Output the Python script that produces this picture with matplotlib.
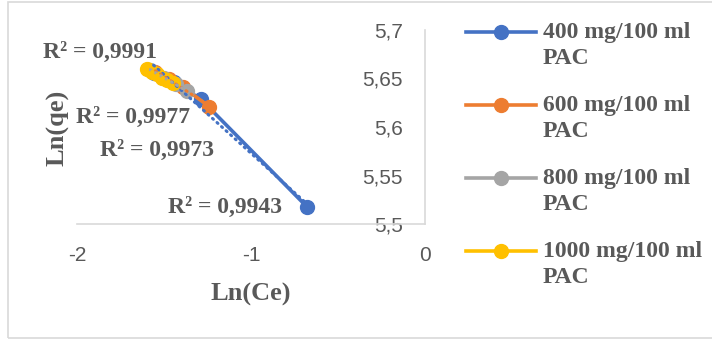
import numpy as np
import matplotlib
matplotlib.use("Agg")
import matplotlib.pyplot as plt
from matplotlib.patches import Rectangle
from matplotlib.lines import Line2D

series_names = ["400 mg/100 ml\nPAC", "600 mg/100 ml\nPAC", "800 mg/100 ml\nPAC", "1000 mg/100 ml\nPAC"]
colors = ["#4472C4", "#ED7D31", "#A5A5A5", "#FFC000"]

x_400 = [-1.56, -1.44, -1.29, -0.68]
y_400 = [5.656, 5.646, 5.629, 5.518]
x_600 = [-1.55, -1.47, -1.39, -1.24]
y_600 = [5.657, 5.649, 5.641, 5.621]
x_800 = [-1.58, -1.50, -1.43, -1.37]
y_800 = [5.659, 5.651, 5.644, 5.637]
x_1000 = [-1.60, -1.57, -1.54, -1.51, -1.48, -1.45]
y_1000 = [5.660, 5.657, 5.655, 5.651, 5.648, 5.645]

r2_labels = ["R² = 0,9943", "R² = 0,9977", "R² = 0,9973", "R² = 0,9991"]
x_ticks = [-2, -1, 0]
y_ticks = [5.5, 5.55, 5.6, 5.65, 5.7]

xs = [x_400, x_600, x_800, x_1000]
ys = [y_400, y_600, y_800, y_1000]

fig = plt.figure(figsize=(7.12, 3.40), dpi=100)
fig.patches.append(Rectangle((8/712, 2/340), 1.2, 336/340, transform=fig.transFigure,
                             fill=False, edgecolor="#d9d9d9", linewidth=1.2))
ax = fig.add_axes([77/712, 1 - 224/340, (425-77)/712, (224-30)/340])

for x, y, c in zip(xs, ys, colors):
    ax.plot(x, y, color=c, linewidth=2.6, marker="o", markersize=10, zorder=2)
for x, y, c in zip(xs, ys, colors):
    p = np.polyfit(x, y, 1)
    xx = np.array([min(x), max(x)])
    ax.plot(xx, np.polyval(p, xx), color=c, linewidth=2.2,
            linestyle=(0, (0.4, 1.6)), dash_capstyle="round", zorder=3)

ax.set_xlim(-2, 0)
ax.set_ylim(5.5, 5.7)
ax.spines["top"].set_visible(False)
ax.spines["right"].set_visible(False)
ax.spines["left"].set_position(("data", 0))
ax.spines["left"].set_color("#d9d9d9")
ax.spines["bottom"].set_color("#d9d9d9")
ax.spines["left"].set_linewidth(1.2)
ax.spines["bottom"].set_linewidth(1.2)
ax.set_xticks(x_ticks)
ax.set_yticks(y_ticks)
ax.set_xticklabels([str(t) for t in x_ticks])
ax.set_yticklabels([f"{t:g}".replace(".", ",") for t in y_ticks])
ax.tick_params(length=0, labelsize=15, labelcolor="#595959")
ax.tick_params(axis="x", pad=16)
ax.tick_params(axis="y", pad=16)
for lab in ax.get_xticklabels() + ax.get_yticklabels():
    lab.set_family("Liberation Sans")
ax.patch.set_alpha(0)

serif = dict(family="Liberation Serif", weight="bold", color="#595959")
ax.text(-1.149, 5.5175, r2_labels[0], fontsize=17, ha="center", va="center", **serif)
ax.text(-1.678, 5.6103, r2_labels[1], fontsize=17, ha="center", va="center", **serif)
ax.text(-1.54, 5.5763, r2_labels[2], fontsize=17, ha="center", va="center", **serif)
ax.text(-1.868, 5.677, r2_labels[3], fontsize=17, ha="center", va="center", **serif)

fig.text(58/712, 1 - 128/340, "Ln(qe)", rotation=90, fontsize=19, ha="center", va="center", **serif)
fig.text(251/712, 1 - 294/340, "Ln(Ce)", fontsize=19, ha="center", va="center", **serif)

leg_y = [32, 105, 178, 251]
for yy, name, c in zip(leg_y, series_names, colors):
    yf = 1 - yy/340
    fig.add_artist(Line2D([466/712, 536/712], [yf, yf], transform=fig.transFigure,
                          color=c, linewidth=2.6))
    fig.add_artist(Line2D([501/712], [yf], transform=fig.transFigure, color=c,
                          marker="o", markersize=10, linestyle="none"))
    fig.text(543/712, 1 - (yy - 10)/340, name, fontsize=17, ha="left", va="top",
             linespacing=1.3, **serif)

fig.savefig("out.png", dpi=100)
